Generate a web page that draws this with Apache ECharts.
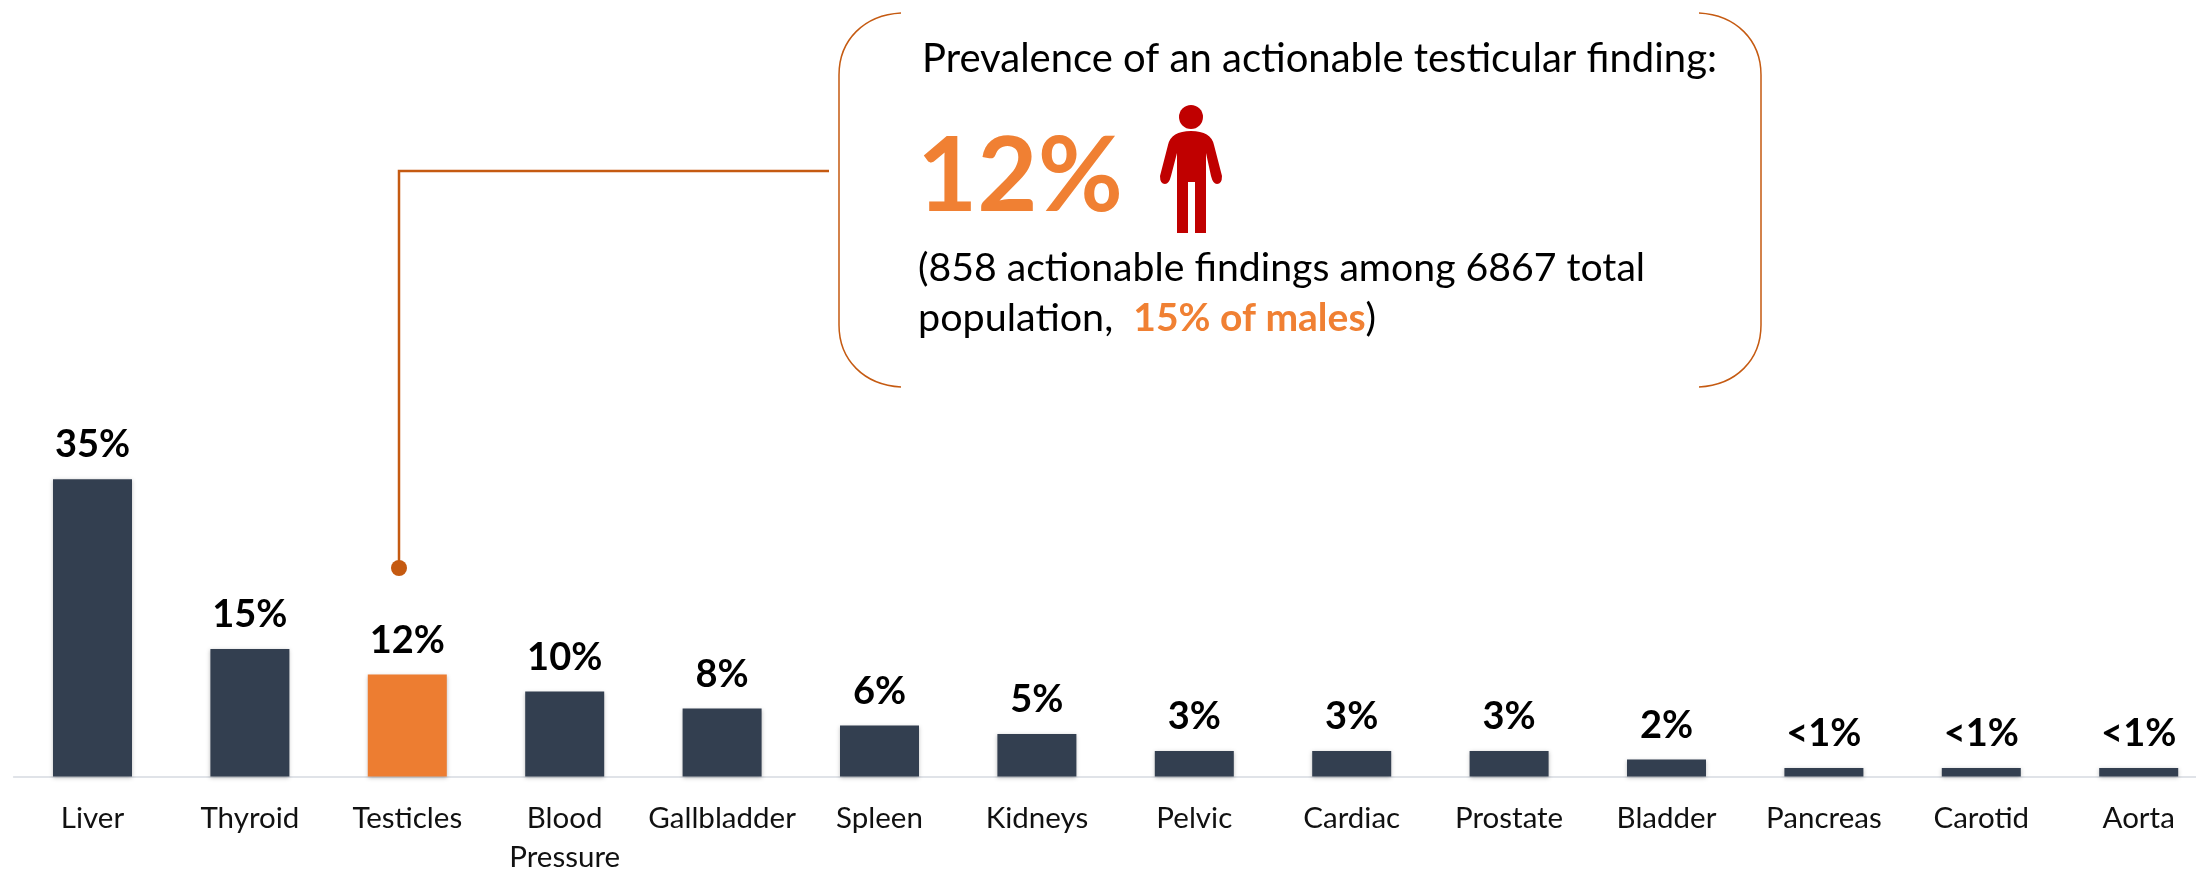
<!DOCTYPE html>
<html>
<head>
<meta charset="utf-8">
<style>html,body{margin:0;padding:0;background:#fff}#c{width:2196px;height:869px}</style>
<script src="https://cdn.jsdelivr.net/npm/echarts@6/dist/echarts.min.js"></script>
</head>
<body>
<div id="c"></div>
<script>
const categories = ['Liver','Thyroid','Testicles','Blood\nPressure','Gallbladder','Spleen','Kidneys','Pelvic','Cardiac','Prostate','Bladder','Pancreas','Carotid','Aorta'];
const values = [35,15,12,10,8,6,5,3,3,3,2,1,1,1];
const valueLabels = ['35%','15%','12%','10%','8%','6%','5%','3%','3%','3%','2%','<1%','<1%','<1%'];
const highlight = 'Testicles';
const FONT = 'Lato';
echarts.graphic.registerShape('calloutBracket', echarts.graphic.extendPath('M901 13 C864 15 839 40 839 75 L839 325 C839 360 864 385 901 387 M1699 13 C1736 15 1761 40 1761 75 L1761 325 C1761 360 1736 385 1699 387'));
echarts.graphic.registerShape('personBody', echarts.graphic.extendPath('M1168 145 Q1171 131 1191 131 Q1211 131 1214 145 L1222 176 Q1222 184 1217 184 Q1213 184 1211 176 L1206 153 L1206 233 L1195 233 L1195 182 L1188 182 L1188 233 L1177 233 L1177 153 L1171 176 Q1169 184 1165 184 Q1160 184 1160 176 Z'));
const chart = echarts.init(document.getElementById('c'));
chart.setOption({
  animation:false,
  backgroundColor:'#fff',
  grid:{left:13.8,width:2203.6,top:0,height:776.5,outerBoundsMode:'none',containLabel:false},
  xAxis:{type:'category',data:categories,
    axisLine:{lineStyle:{color:'#E0E3E8',width:2}},
    axisTick:{show:false},
    axisLabel:{interval:0,color:'#111',fontFamily:FONT,fontSize:29.5,lineHeight:39,margin:22,hideOverlap:false}},
  yAxis:{type:'value',min:0,max:91.4,show:false,splitLine:{show:false}},
  series:[{type:'bar',barWidth:79,
    data:values.map((v,i)=>({value:v,itemStyle:{color:categories[i]===highlight?'#ED7D31':'#333F50'}})),
    itemStyle:{shadowBlur:4,shadowColor:'rgba(0,0,0,0.25)',shadowOffsetY:1},
    label:{show:true,position:'top',distance:15,color:'#000',fontFamily:FONT,fontWeight:'bold',fontSize:38,
      formatter:p=>valueLabels[p.dataIndex]}}],
  graphic:[
    {type:'calloutBracket',style:{fill:null,stroke:'#C55A11',lineWidth:1.5}},
    {type:'polyline',shape:{points:[[829,171],[399,171],[399,567]]},style:{fill:null,stroke:'#C55A11',lineWidth:2.5}},
    {type:'circle',shape:{cx:399,cy:568,r:8},style:{fill:'#C55A11'}},
    {type:'text',style:{x:922,y:59,text:'Prevalence of an actionable testicular finding:',fontFamily:FONT,fontSize:40,fill:'#000',verticalAlign:'middle'}},
    {type:'text',style:{x:917,y:177,text:'12%',fontFamily:FONT,fontWeight:'bold',fontSize:104,fill:'#F08033',verticalAlign:'middle'}},
    {type:'circle',shape:{cx:1191,cy:117,r:12},style:{fill:'#C00000'}},
    {type:'personBody',style:{fill:'#C00000'}},
    {type:'text',style:{x:918,y:268,text:'(858 actionable findings among 6867 total',fontFamily:FONT,fontSize:39.2,fill:'#000',verticalAlign:'middle'}},
    {type:'text',style:{x:918,y:318,text:'{a|population,  }{b|15% of males}{a|)}',verticalAlign:'middle',
      rich:{a:{fontFamily:FONT,fontSize:39.5,fill:'#000'},b:{fontFamily:FONT,fontSize:39,fontWeight:'bold',fill:'#F08033'}}}}
  ]
});
</script>
</body>
</html>
